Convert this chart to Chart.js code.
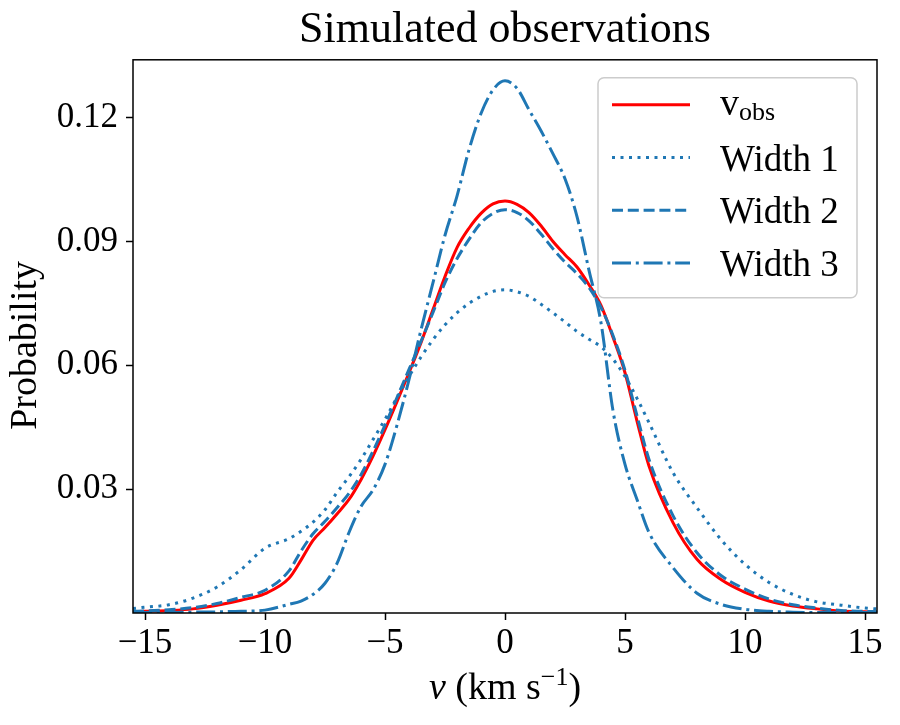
<!DOCTYPE html>
<html>
<head>
<meta charset="utf-8">
<script src="https://cdn.jsdelivr.net/npm/chart.js@4.4.0/dist/chart.umd.min.js"></script>
<style>
  html, body { margin: 0; padding: 0; background: #fff; }
</style>
</head>
<body>
<canvas id="chart" width="900" height="725"></canvas>
<script>
// velocity grid (km/s) and probability values
const velocity = [-15.5, -15, -14, -13, -12, -11, -10, -9,
  -8.5, -8, -7.5, -7, -6.5, -6, -5.5, -5, -4.5, -4, -3.5, -3, -2.5, -2, -1.5, -1, -0.5,
  0,
  0.5, 1, 1.5, 2, 2.5, 3, 3.5, 4, 4.5, 5, 5.5, 6,
  7, 8, 9, 10, 11, 12, 13, 14, 15,
  15.5];
const vObs = [0.0003, 0.0004, 0.0006, 0.0010, 0.0019, 0.0031, 0.0047, 0.0084,
  0.0128, 0.0176, 0.0207, 0.0240, 0.0275, 0.0323, 0.0380, 0.0444, 0.0512, 0.0582, 0.0655, 0.0735, 0.0815, 0.0885, 0.0932, 0.0968, 0.0991,
  0.0998,
  0.0990, 0.0970, 0.0938, 0.0900, 0.0868, 0.0838, 0.0795, 0.0745, 0.0668, 0.0582, 0.0465, 0.0356,
  0.0219, 0.0130, 0.0081, 0.0050, 0.0029, 0.0017, 0.0010, 0.0005, 0.0003,
  0.0002];
const width1 = [0.0011, 0.0014, 0.0020, 0.0036, 0.0063, 0.0105, 0.0157, 0.0180,
  0.0198, 0.0220, 0.0250, 0.0292, 0.0330, 0.0372, 0.0420, 0.0469, 0.0522, 0.0573, 0.0620, 0.0662, 0.0698, 0.0727, 0.0750, 0.0767, 0.0779,
  0.0783,
  0.0778, 0.0767, 0.0748, 0.0727, 0.0705, 0.0682, 0.0663, 0.0645, 0.0615, 0.0573, 0.0520, 0.0461,
  0.0340, 0.0255, 0.0178, 0.0118, 0.0074, 0.0045, 0.0027, 0.0019, 0.0012,
  0.0010];
const width2 = [0.0004, 0.0005, 0.0008, 0.0013, 0.0023, 0.0038, 0.0055, 0.0102,
  0.0150, 0.0192, 0.0222, 0.0255, 0.0290, 0.0335, 0.0392, 0.0455, 0.0522, 0.0590, 0.0658, 0.0728, 0.0800, 0.0858, 0.0905, 0.0945, 0.0968,
  0.0977,
  0.0970, 0.0950, 0.0918, 0.0882, 0.0850, 0.0822, 0.0788, 0.0740, 0.0672, 0.0588, 0.0478, 0.0372,
  0.0236, 0.0146, 0.0091, 0.0058, 0.0034, 0.0020, 0.0012, 0.0006, 0.0004,
  0.0003];
const width3 = [0.0001, 0.0001, 0.0001, 0.0002, 0.0003, 0.0004, 0.0007, 0.0021,
  0.0029, 0.0045, 0.0072, 0.0120, 0.0195, 0.0258, 0.0298, 0.0360, 0.0455, 0.0565, 0.0686, 0.0800, 0.0915, 0.1010, 0.1122, 0.1210, 0.1267,
  0.1289,
  0.1271, 0.1219, 0.1168, 0.1112, 0.1052, 0.0960, 0.0830, 0.0703, 0.0490, 0.0360, 0.0275, 0.0195,
  0.0110, 0.0048, 0.0021, 0.0009, 0.0004, 0.0002, 0.0001, 0.0001, 0.0001,
  0.0001];
const seriesLabels = ['v_obs', 'Width 1', 'Width 2', 'Width 3'];
const xTicks = [-15, -10, -5, 0, 5, 10, 15];
const yTicks = [0.03, 0.06, 0.09, 0.12];

const serif = "'Liberation Serif', 'DejaVu Serif', serif";
const blue = '#1f77b4';
const lw = 3;

const toPoints = ys => velocity.map((v, i) => ({ x: v, y: ys[i] }));

function sub(ctx, parts, x, y) {
    parts.forEach(p => {
        ctx.font = p.font;
        ctx.fillText(p.text, x, y + (p.dy || 0));
        x += ctx.measureText(p.text).width;
    });
}

const framePlugin = {
    id: 'frame',
    afterDatasetsDraw(chart) {
        const { ctx, chartArea: a } = chart;
        ctx.save();
        ctx.strokeStyle = '#000';
        ctx.lineWidth = 1.5;
        ctx.strokeRect(a.left, a.top, a.right - a.left, a.bottom - a.top);
        ctx.restore();
    },
};

const axisTitlePlugin = {
    id: 'axisTitles',
    afterDraw(chart) {
        const { ctx, chartArea: a } = chart;
        const parts = [
            { text: 'v', font: `italic 38px ${serif}` },
            { text: ' (km s', font: `38px ${serif}` },
            { text: '\u22121', font: `26px ${serif}`, dy: -14 },
            { text: ')', font: `38px ${serif}` },
        ];
        ctx.save();
        ctx.fillStyle = '#000';
        ctx.textBaseline = 'alphabetic';
        let total = 0;
        parts.forEach(p => { ctx.font = p.font; total += ctx.measureText(p.text).width; });
        sub(ctx, parts, (a.left + a.right) / 2 - total / 2, a.bottom + 86);

        // y title, rotated
        ctx.translate(36, (a.top + a.bottom) / 2 + 9);
        ctx.rotate(-Math.PI / 2);
        ctx.font = `38px ${serif}`;
        ctx.textAlign = 'center';
        ctx.fillText('Probability', 0, 0);
        ctx.restore();
    },
};

const legendPlugin = {
    id: 'texLegend',
    afterDraw(chart) {
        const { ctx, chartArea: a } = chart;
        const w = 259, h = 220, r = 6;
        const bx = a.right - 20 - w, by = a.top + 18;
        ctx.save();
        ctx.beginPath();
        ctx.moveTo(bx + r, by);
        ctx.arcTo(bx + w, by, bx + w, by + h, r);
        ctx.arcTo(bx + w, by + h, bx, by + h, r);
        ctx.arcTo(bx, by + h, bx, by, r);
        ctx.arcTo(bx, by, bx + w, by, r);
        ctx.closePath();
        ctx.fillStyle = 'rgba(255,255,255,0.8)';
        ctx.fill();
        ctx.strokeStyle = '#cccccc';
        ctx.lineWidth = 1.5;
        ctx.stroke();

        chart.data.datasets.forEach((ds, i) => {
            const cy = by + 27 + i * 52.7;
            ctx.beginPath();
            ctx.setLineDash(ds.borderDash || []);
            ctx.strokeStyle = ds.borderColor;
            ctx.lineWidth = ds.borderWidth;
            ctx.moveTo(bx + 14, cy);
            ctx.lineTo(bx + 92, cy);
            ctx.stroke();
            ctx.setLineDash([]);
            ctx.fillStyle = '#000';
            const tx = bx + 122;
            if (ds.label === 'v_obs') {
                sub(ctx, [
                    { text: 'v', font: `38px ${serif}`, dy: 10 },
                    { text: 'obs', font: `26px ${serif}`, dy: 15 },
                ], tx, cy);
            } else {
                ctx.font = `37px ${serif}`;
                ctx.fillText(ds.label, tx, cy + 13);
            }
        });
        ctx.restore();
    },
};

new Chart(document.getElementById('chart'), {
    type: 'line',
    data: {
        datasets: [
            { label: seriesLabels[0], data: toPoints(vObs), borderColor: '#ff0000', borderWidth: lw, order: 3 },
            { label: seriesLabels[1], data: toPoints(width1), borderColor: blue, borderWidth: lw, borderDash: [3, 5.5], order: 2 },
            { label: seriesLabels[2], data: toPoints(width2), borderColor: blue, borderWidth: lw, borderDash: [11, 4.8], order: 1 },
            { label: seriesLabels[3], data: toPoints(width3), borderColor: blue, borderWidth: lw, borderDash: [19, 4.8, 3, 4.8], order: 0 },
        ],
    },
    options: {
        responsive: false,
        animation: false,
        devicePixelRatio: 1,
        elements: { point: { radius: 0 }, line: { cubicInterpolationMode: 'monotone', fill: false } },
        layout: { padding: { left: 0, right: 23, top: 0, bottom: 0 } },
        plugins: {
            legend: { display: false },
            tooltip: { enabled: false },
            title: {
                display: true,
                text: 'Simulated observations',
                color: '#000',
                fullSize: false,
                font: { family: serif, size: 44, weight: 'normal' },
                padding: { top: 4, bottom: 3 },
            },
        },
        scales: {
            x: {
                type: 'linear',
                min: -15.5,
                max: 15.5,
                afterBuildTicks: s => { s.ticks = xTicks.map(v => ({ value: v })); },
                afterFit: s => { s.height = 112; },
                border: { display: false },
                grid: { drawOnChartArea: false, drawTicks: true, tickLength: 7, tickWidth: 1.5, tickColor: '#000' },
                ticks: {
                    color: '#000',
                    font: { family: serif, size: 35 },
                    padding: 3,
                    maxRotation: 0,
                    callback: v => (v < 0 ? '\u2212' + Math.abs(v) : String(v)),
                },
            },
            y: {
                type: 'linear',
                min: 0,
                max: 0.134,
                afterBuildTicks: s => { s.ticks = yTicks.map(v => ({ value: v })); },
                afterFit: s => { s.width = 133; },
                border: { display: false },
                grid: { drawOnChartArea: false, drawTicks: true, tickLength: 7, tickWidth: 1.5, tickColor: '#000' },
                ticks: { color: '#000', font: { family: serif, size: 35 }, padding: 8, callback: v => v.toFixed(2) },
            },
        },
    },
    plugins: [framePlugin, axisTitlePlugin, legendPlugin],
});
</script>
</body>
</html>
